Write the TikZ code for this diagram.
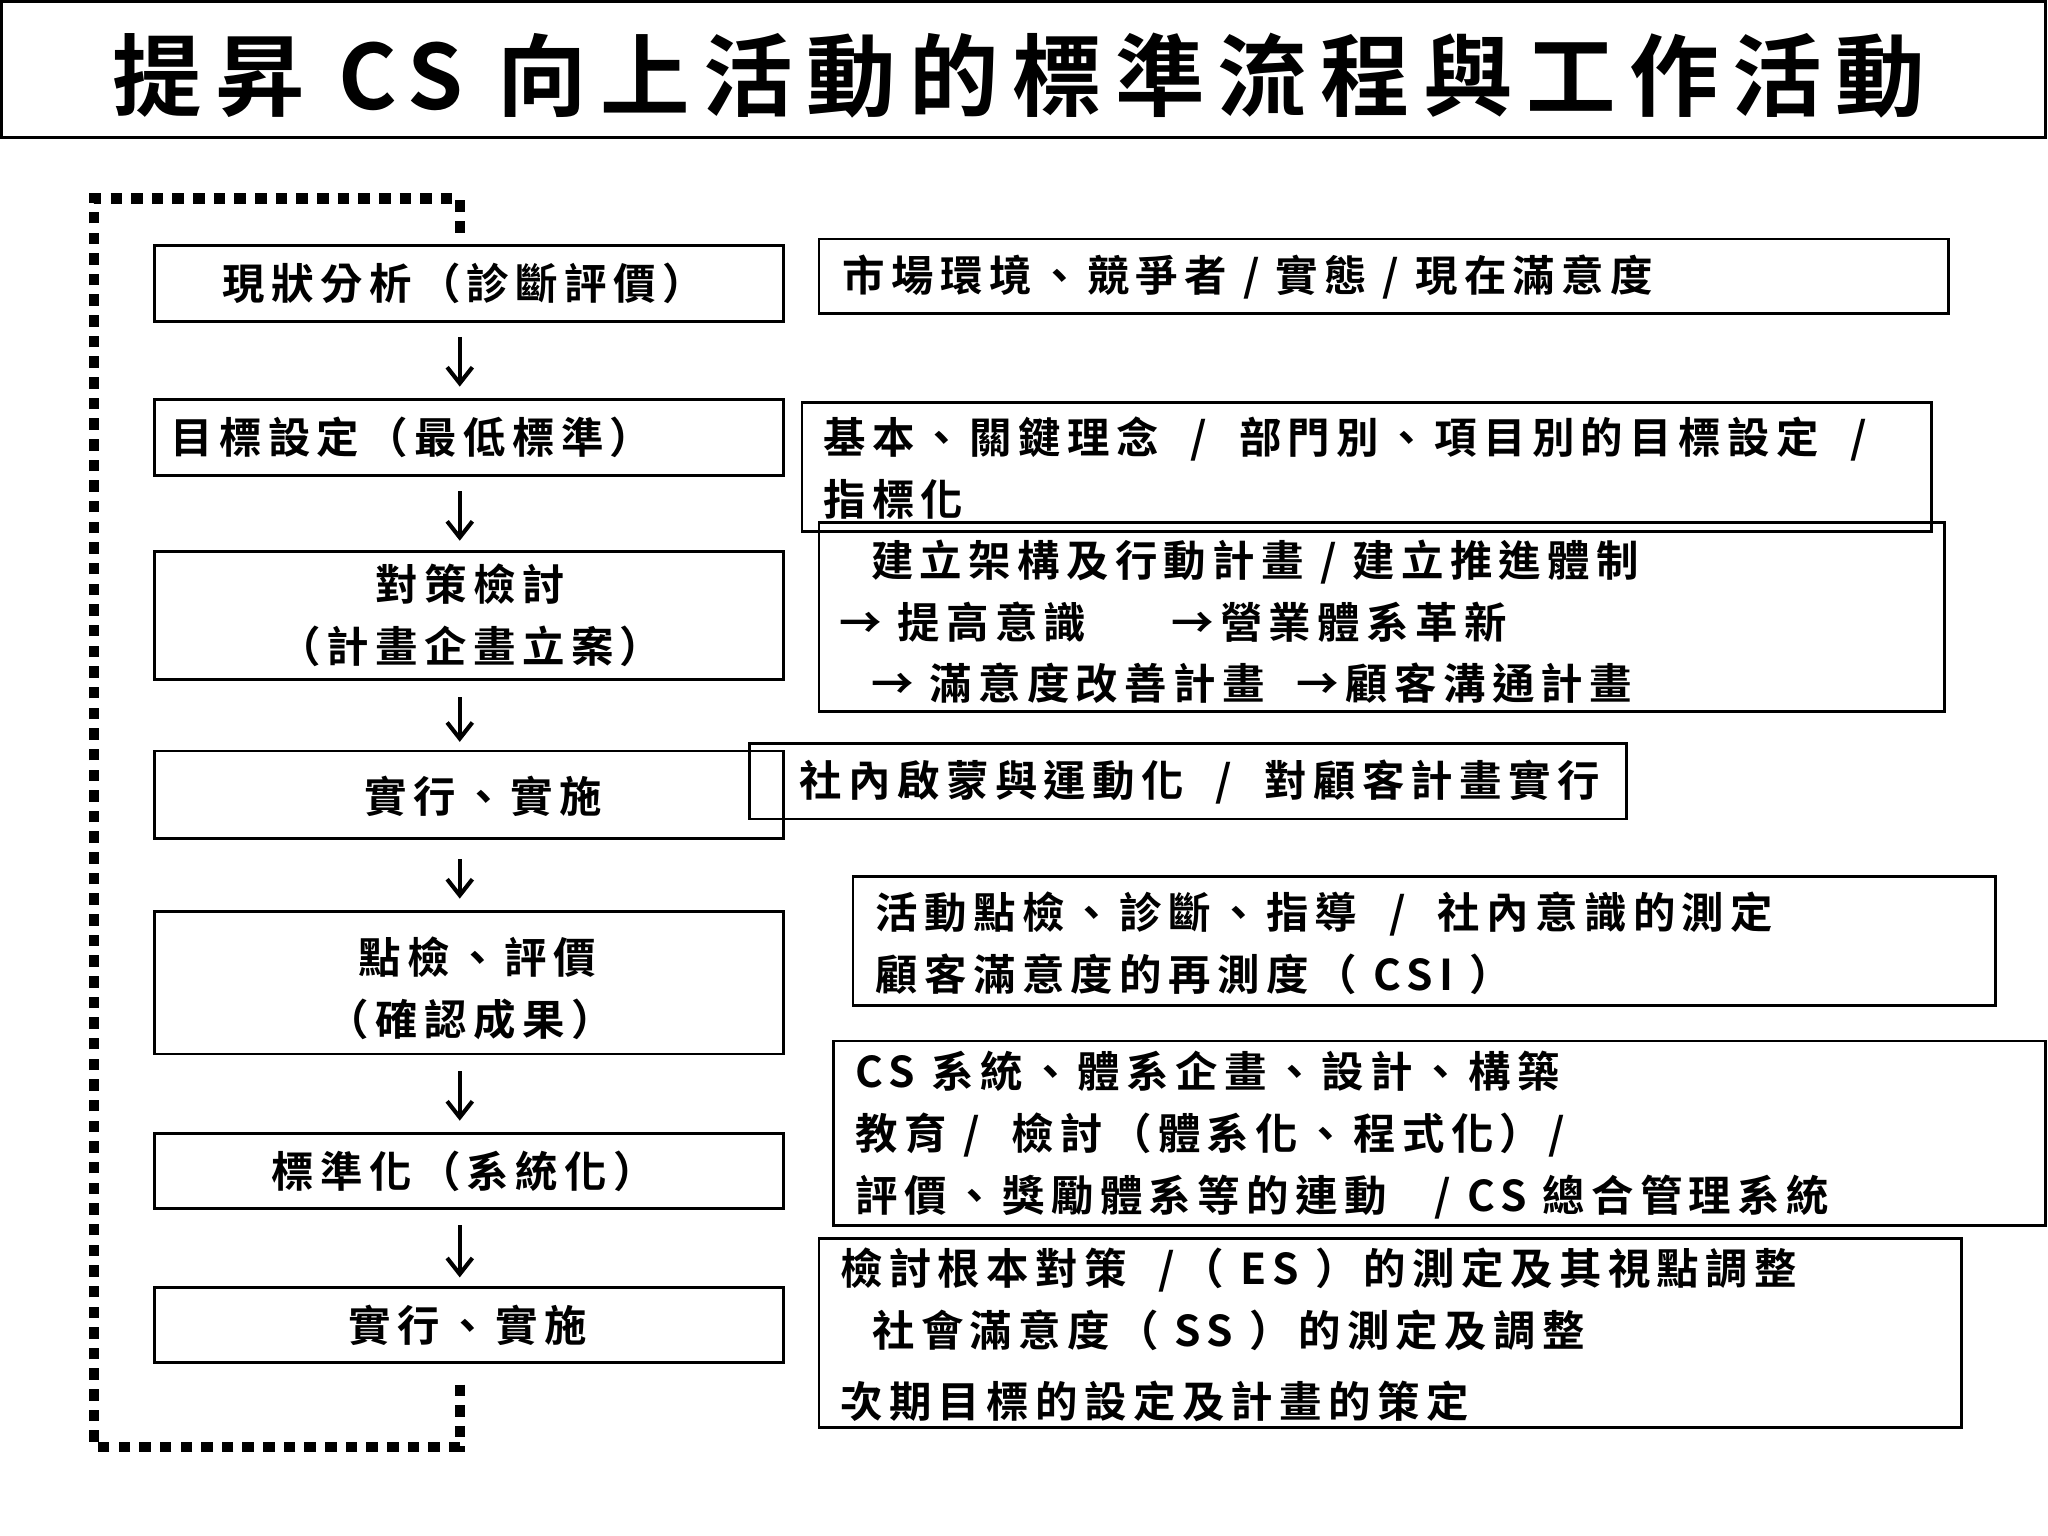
\documentclass[tikz,border=0pt]{standalone}
\usepackage{fontspec}
\usetikzlibrary{arrows.meta}
\setmainfont{Liberation Sans}
\newfontfamily\cjk[LetterSpace=15,BoldFont={Noto Sans CJK TC Bold}]{Noto Sans CJK TC}
\begin{document}
\begin{tikzpicture}[x=0.02cm,y=-0.02cm,
 bx/.style={draw,line width=1.2pt},
 tx/.style={font=\cjk\bfseries\fontsize{18.5}{27}\selectfont,align=left,anchor=west,inner sep=0},
 tc/.style={font=\cjk\bfseries\fontsize{18.5}{27}\selectfont,align=center,inner sep=0},
 ar/.style={line width=1.8pt,-{Straight Barb[length=7pt,width=11pt,line width=1.8pt]}},
 loop/.style={line width=4.5pt,dash pattern=on 5pt off 4pt}]
\useasboundingbox (0,0) rectangle (1568,1176);
\draw[bx] (1,1) rectangle (1566,105);
\node[tc,font=\cjk\bfseries\fontsize{39}{42}\selectfont] (title) at (780,58) {提昇 CS 向上活動的標準流程與工作活動};
% left boxes
\draw[bx] (118,188) rectangle (600,246); \node[tc] (l1) at (355,217) {現狀分析（診斷評價）};
\draw[bx] (118,306) rectangle (600,364); \node[tc] (l2) at (315,335) {目標設定（最低標準）};
\draw[bx] (118,422) rectangle (600,520); \node[tc] (l3) at (360,471) {對策檢討\\（計畫企畫立案）};
\draw[bx] (118,575) rectangle (600,642); \node[tc] (l4) at (370,610) {實行、實施};
\draw[bx] (118,698) rectangle (600,807); \node[tc] (l5) at (360,757) {\,\,點檢、評價\\（確認成果）};
\draw[bx] (118,868) rectangle (600,925); \node[tc] (l6) at (355,897) {標準化（系統化）};
\draw[bx] (118,986) rectangle (600,1043); \node[tc] (l7) at (358,1015) {實行、實施};
\foreach \a/\b in {250/300,368/418,526/572,650/692,812/862,930/982}
  \draw[ar] (352,\a+8) -- (352,\b-4);
% loop
\draw[loop] (352,1060) -- (352,1108) -- (78,1108) -- (72,1108) -- (72,152) -- (352,152) -- (352,185);
% right boxes
\draw[bx] (627,183) rectangle (1492,240);
\node[tx] (r1) at (645,212) {市場環境、競爭者 / 實態 / 現在滿意度};
\draw[bx] (614,308) rectangle (1479,407);
\node[tx] (r2) at (630,358) {基本、關鍵理念\ \ /\ \ 部門別、項目別的目標設定\ \ /\\指標化};
\draw[bx] (627,400) rectangle (1489,545);
\node[tx] (r3) at (642,476) {\ \ 建立架構及行動計畫 / 建立推進體制\\→ 提高意識\qquad →營業體系革新\\\ \ → 滿意度改善計畫\ \ →顧客溝通計畫};
\draw[bx] (574,569) rectangle (1245,627);
\node[tx] (r4) at (612,599) {社內啟蒙與運動化\ \ /\ \ 對顧客計畫實行};
\draw[bx] (653,671) rectangle (1528,770);
\node[tx] (r5) at (670,722) {活動點檢、診斷、指導\ \ /\ \ 社內意識的測定\\顧客滿意度的再測度（ CSI ）};
\draw[bx] (638,797) rectangle (1566,938);
\node[tx] (r6) at (655,869) {CS 系統、體系企畫、設計、構築\\教育 /\ \ 檢討（體系化、程式化）/\\評價、獎勵體系等的連動\ \ \ / CS 總合管理系統};
\draw[bx] (627,948) rectangle (1502,1093);
\node[tx,align=left] (r7) at (643,1022) {檢討根本對策\ \ /（ ES ）的測定及其視點調整\\\ \ 社會滿意度（ SS ）的測定及調整\\[4pt]次期目標的設定及計畫的策定};
\end{tikzpicture}
\end{document}
